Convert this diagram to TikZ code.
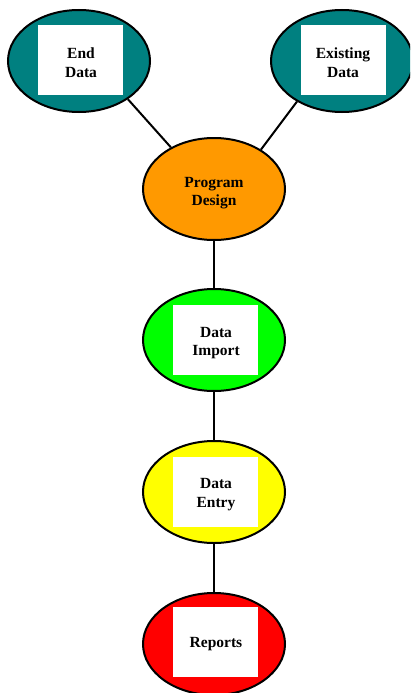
\documentclass[tikz,border=0pt]{standalone}
\usepackage{fontspec}
\setmainfont{Liberation Serif}
\usetikzlibrary{shapes.geometric}
\definecolor{tealc}{HTML}{008080}
\definecolor{orangec}{HTML}{FF9900}
\definecolor{greenc}{HTML}{00FF00}
\definecolor{yellowc}{HTML}{FFFF00}
\definecolor{redc}{HTML}{FF0000}
\tikzset{
  oval/.style={ellipse, draw=black, line width=2pt, minimum width=142pt, minimum height=102pt, inner sep=0pt},
  whitebox/.style={rectangle, fill=white, minimum width=85pt, minimum height=70pt, inner sep=0pt},
  plainlabel/.style={align=center, inner sep=0pt, font=\fontsize{15.5}{18.5}\selectfont\bfseries},
  conn/.style={draw=black, line width=2pt},
  vconn/.style={draw=black, line width=2.6pt}
}
\begin{document}
\begin{tikzpicture}[x=1pt,y=-1pt]
\useasboundingbox (0,0) rectangle (410,693);
\clip (0,0) rectangle (410,693);
\fill[white] (0,0) rectangle (410,693);
% ovals
\node[oval, fill=tealc] (ed) at (79,61) {};
\node[whitebox] (edb) at (80.5,60) {};
\node[plainlabel] (edt) at (81,62.5) {End\\Data};
\node[oval, fill=tealc] (ex) at (342,61) {};
\node[whitebox] (exb) at (343,60) {};
\node[plainlabel] (ext) at (343,62.5) {Existing\\Data};
\node[oval, fill=orangec] (pd) at (214,189) {};
\node[plainlabel] (pdt) at (214,193) {Program\\Design};
\node[oval, fill=greenc] (di) at (214,340) {};
\node[whitebox] (dib) at (215.5,340) {};
\node[plainlabel] (dit) at (216,343) {Data\\Import};
\node[oval, fill=yellowc] (de) at (214,492) {};
\node[whitebox] (deb) at (215.5,492) {};
\node[plainlabel] (det) at (216,494.5) {Data\\Entry};
\node[oval, fill=redc] (rp) at (214,644) {};
\node[whitebox] (rpb) at (215.5,642) {};
\node[plainlabel] (rpt) at (216,644.5) {Reports};
% connectors
\draw[conn] (ed.-38) -- (pd.136);
\draw[conn] (ex.222) -- (pd.40);
\draw[vconn] (pd.south) -- (di.north);
\draw[vconn] (di.south) -- (de.north);
\draw[vconn] (de.south) -- (rp.north);
\end{tikzpicture}
\end{document}
